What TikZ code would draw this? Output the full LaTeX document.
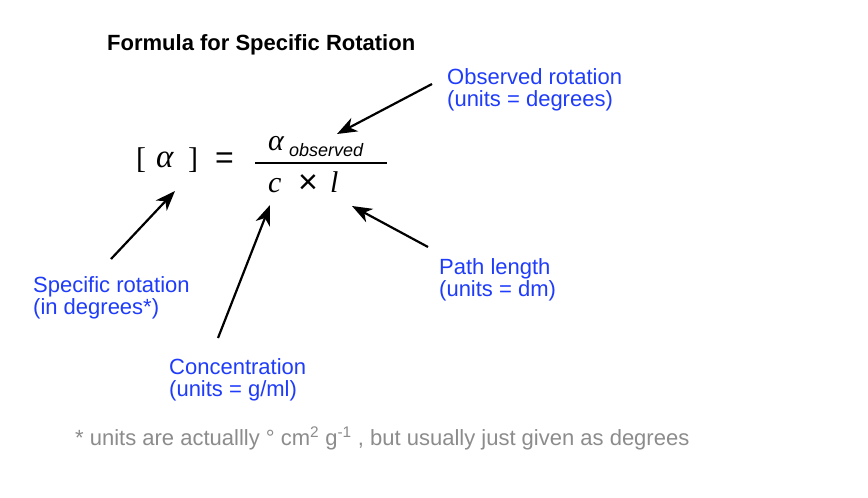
\documentclass[tikz,border=0pt]{standalone}
\usepackage{fontspec}
\setmainfont{Liberation Sans}
\newfontfamily\seriffont{Liberation Serif}
\usetikzlibrary{arrows.meta}
\definecolor{labelblue}{RGB}{30,60,250}
\definecolor{notegray}{RGB}{140,140,140}
\begin{document}
\begin{tikzpicture}[x=1pt,y=-1pt,
  lbl/.style={anchor=base west, inner sep=0, text=labelblue, font=\fontsize{22}{22}\selectfont, align=left},
  fml/.style={anchor=base west, inner sep=0, font=\seriffont\fontsize{30}{30}\selectfont},
  pointer/.style={line width=2.2pt, -{Stealth[length=20pt,width=15pt,inset=6pt]}}]
\useasboundingbox (0,0) rectangle (868,498);
\fill[white] (0,0) rectangle (868,498);

% title
\node[anchor=base west, inner sep=0, font=\bfseries\fontsize{22}{24}\selectfont] (title) at (107,50) {Formula for Specific Rotation};

% formula
\node[fml] (lbr) at (136,168) {[};
\node[fml, font=\seriffont\itshape\fontsize{33}{33}\selectfont] (alpha) at (156,167) {α};
\node[fml] (rbr) at (188,168) {]};
\node[fml, font=\fontsize{32}{32}\selectfont] (eq) at (215,168) {=};
\draw[line width=2pt] (255,163) -- (387,163);
\node[fml, font=\seriffont\itshape\fontsize{30}{30}\selectfont] (alphaobs) at (268,150) {α};
\node[anchor=base west, inner sep=0, font=\itshape\fontsize{18}{18}\selectfont] (obsword) at (289,156) {observed};
\node[fml, font=\seriffont\itshape\fontsize{30}{30}\selectfont] (cvar) at (268,192) {c};
\node[fml, font=\fontsize{34}{34}\selectfont] (times) at (298,193) {×};
\node[fml, font=\seriffont\itshape\fontsize{30}{30}\selectfont] (lvar) at (330,192) {l};

% labels (base = baseline of the last line)
\node[lbl] (obslbl) at (447,106) {Observed rotation\\(units = degrees)};
\node[lbl] (speclbl) at (33,314) {Specific rotation\\(in degrees*)};
\node[lbl] (conclbl) at (169,396) {Concentration\\(units = g/ml)};
\node[lbl] (pathlbl) at (439,296) {Path length\\(units = dm)};

% arrows
\coordinate (obsTail) at (432,84);
\coordinate (obsTip) at (337,134);
\coordinate (specTail) at (111,259);
\coordinate (specTip) at (175,191);
\coordinate (concTail) at (218,338);
\coordinate (concTip) at (270,205);
\coordinate (pathTail) at (428,247);
\coordinate (pathTip) at (352,206);
\draw[pointer] (obsTail) -- (obsTip);
\draw[pointer] (specTail) -- (specTip);
\draw[pointer] (concTail) -- (concTip);
\draw[pointer] (pathTail) -- (pathTip);

% footnote
\node[anchor=base west, inner sep=0, text=notegray, font=\fontsize{22}{24}\selectfont] (note) at (75,445)
  {* units are actuallly ° cm\textsuperscript{2} g\textsuperscript{-1} , but usually just given as degrees};
\end{tikzpicture}
\end{document}
